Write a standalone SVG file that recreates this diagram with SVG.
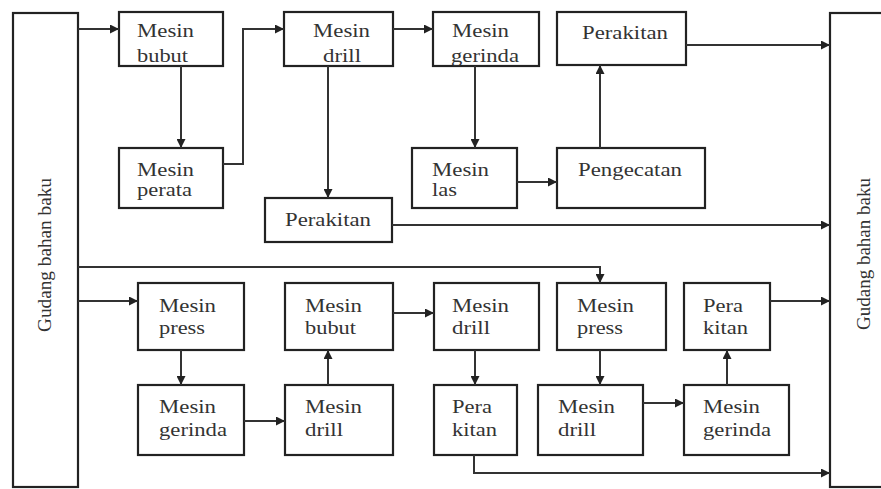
<svg xmlns="http://www.w3.org/2000/svg" width="881" height="489" viewBox="0 0 881 489">
<defs>
<marker id="ah" markerUnits="userSpaceOnUse" markerWidth="10" markerHeight="9" viewBox="0 0 10 10" refX="10" refY="5" orient="auto">
<path d="M0,0 L10,5 L0,10 z" fill="#222"/>
</marker>
<style>
.box{fill:#fff;stroke:#222;stroke-width:2.2}
.t{font-family:"Liberation Serif","Times New Roman",serif;font-size:18.5px;fill:#333}
.g{font-family:"Liberation Serif","Times New Roman",serif;font-size:18px;fill:#333}
.c{fill:none;stroke:#333;stroke-width:2;marker-end:url(#ah)}
</style>
</defs>
<rect width="881" height="489" fill="#fff"/>

<g id="gudang-kiri">
<rect class="box" x="13" y="13" width="65" height="474"/>
<text class="g" transform="translate(51,332) rotate(-90)" textLength="154" lengthAdjust="spacingAndGlyphs">Gudang bahan baku</text>
</g>
<g id="gudang-kanan">
<rect class="box" x="830" y="13" width="60" height="474"/>
<text class="g" transform="translate(870,330) rotate(-90)" textLength="152" lengthAdjust="spacingAndGlyphs">Gudang bahan baku</text>
</g>

<g id="n-bubut1">
<rect class="box" x="119" y="12" width="104" height="54"/>
<text class="t" x="137" y="37" textLength="57" lengthAdjust="spacingAndGlyphs">Mesin</text>
<text class="t" x="137" y="62" textLength="51" lengthAdjust="spacingAndGlyphs">bubut</text>
</g>
<g id="n-perata">
<rect class="box" x="119" y="148" width="104" height="60"/>
<text class="t" x="137" y="176" textLength="57" lengthAdjust="spacingAndGlyphs">Mesin</text>
<text class="t" x="137" y="196" textLength="55" lengthAdjust="spacingAndGlyphs">perata</text>
</g>
<g id="n-drill1">
<rect class="box" x="284" y="12" width="109" height="54"/>
<text class="t" x="313" y="37" textLength="57" lengthAdjust="spacingAndGlyphs">Mesin</text>
<text class="t" x="323" y="62" textLength="38" lengthAdjust="spacingAndGlyphs">drill</text>
</g>
<g id="n-gerinda1">
<rect class="box" x="433" y="12" width="106" height="54"/>
<text class="t" x="452" y="37" textLength="57" lengthAdjust="spacingAndGlyphs">Mesin</text>
<text class="t" x="451" y="62" textLength="68" lengthAdjust="spacingAndGlyphs">gerinda</text>
</g>
<g id="n-perakitan1">
<rect class="box" x="557" y="12" width="129" height="53"/>
<text class="t" x="582" y="39" textLength="86" lengthAdjust="spacingAndGlyphs">Perakitan</text>
</g>
<g id="n-las">
<rect class="box" x="412" y="148" width="105" height="60"/>
<text class="t" x="432" y="176" textLength="57" lengthAdjust="spacingAndGlyphs">Mesin</text>
<text class="t" x="432" y="196" textLength="25" lengthAdjust="spacingAndGlyphs">las</text>
</g>
<g id="n-pengecatan">
<rect class="box" x="557" y="148" width="148" height="60"/>
<text class="t" x="578" y="176" textLength="104" lengthAdjust="spacingAndGlyphs">Pengecatan</text>
</g>
<g id="n-perakitan2">
<rect class="box" x="265" y="198" width="127" height="44"/>
<text class="t" x="285" y="226" textLength="86" lengthAdjust="spacingAndGlyphs">Perakitan</text>
</g>

<g id="n-press1">
<rect class="box" x="138" y="283" width="106" height="67"/>
<text class="t" x="159" y="312" textLength="57" lengthAdjust="spacingAndGlyphs">Mesin</text>
<text class="t" x="159" y="334" textLength="46" lengthAdjust="spacingAndGlyphs">press</text>
</g>
<g id="n-gerinda2">
<rect class="box" x="138" y="385" width="106" height="70"/>
<text class="t" x="159" y="413" textLength="57" lengthAdjust="spacingAndGlyphs">Mesin</text>
<text class="t" x="159" y="436" textLength="68" lengthAdjust="spacingAndGlyphs">gerinda</text>
</g>
<g id="n-bubut2">
<rect class="box" x="285" y="283" width="108" height="67"/>
<text class="t" x="305" y="312" textLength="57" lengthAdjust="spacingAndGlyphs">Mesin</text>
<text class="t" x="305" y="334" textLength="51" lengthAdjust="spacingAndGlyphs">bubut</text>
</g>
<g id="n-drill2">
<rect class="box" x="285" y="385" width="108" height="70"/>
<text class="t" x="305" y="413" textLength="57" lengthAdjust="spacingAndGlyphs">Mesin</text>
<text class="t" x="305" y="436" textLength="38" lengthAdjust="spacingAndGlyphs">drill</text>
</g>
<g id="n-drill3">
<rect class="box" x="434" y="283" width="105" height="67"/>
<text class="t" x="452" y="312" textLength="57" lengthAdjust="spacingAndGlyphs">Mesin</text>
<text class="t" x="452" y="334" textLength="38" lengthAdjust="spacingAndGlyphs">drill</text>
</g>
<g id="n-perakitan3">
<rect class="box" x="434" y="385" width="83" height="70"/>
<text class="t" x="452" y="413" textLength="40" lengthAdjust="spacingAndGlyphs">Pera</text>
<text class="t" x="452" y="436" textLength="45" lengthAdjust="spacingAndGlyphs">kitan</text>
</g>
<g id="n-press2">
<rect class="box" x="557" y="283" width="109" height="67"/>
<text class="t" x="577" y="312" textLength="57" lengthAdjust="spacingAndGlyphs">Mesin</text>
<text class="t" x="577" y="334" textLength="46" lengthAdjust="spacingAndGlyphs">press</text>
</g>
<g id="n-drill4">
<rect class="box" x="538" y="385" width="105" height="70"/>
<text class="t" x="558" y="413" textLength="57" lengthAdjust="spacingAndGlyphs">Mesin</text>
<text class="t" x="558" y="436" textLength="38" lengthAdjust="spacingAndGlyphs">drill</text>
</g>
<g id="n-perakitan4">
<rect class="box" x="684" y="283" width="86" height="67"/>
<text class="t" x="703" y="312" textLength="40" lengthAdjust="spacingAndGlyphs">Pera</text>
<text class="t" x="703" y="334" textLength="45" lengthAdjust="spacingAndGlyphs">kitan</text>
</g>
<g id="n-gerinda3">
<rect class="box" x="684" y="385" width="105" height="70"/>
<text class="t" x="703" y="413" textLength="57" lengthAdjust="spacingAndGlyphs">Mesin</text>
<text class="t" x="703" y="436" textLength="68" lengthAdjust="spacingAndGlyphs">gerinda</text>
</g>

<g id="connectors">
<path class="c" d="M78,29 H119"/>
<path class="c" d="M181,66 V148"/>
<path class="c" d="M223,164 H243 V29 H284"/>
<path class="c" d="M393,29 H433"/>
<path class="c" d="M328,66 V198"/>
<path class="c" d="M475,66 V148"/>
<path class="c" d="M517,182 H557"/>
<path class="c" d="M600,148 V65"/>
<path class="c" d="M686,45 H830"/>
<path class="c" d="M392,225 H830"/>
<path class="c" d="M78,267 H600 V283"/>
<path class="c" d="M78,301 H138"/>
<path class="c" d="M181,350 V385"/>
<path class="c" d="M244,421 H285"/>
<path class="c" d="M328,385 V350"/>
<path class="c" d="M393,313 H434"/>
<path class="c" d="M475,350 V385"/>
<path class="c" d="M474,455 V473 H830"/>
<path class="c" d="M600,350 V385"/>
<path class="c" d="M643,403 H684"/>
<path class="c" d="M727,385 V350"/>
<path class="c" d="M770,301 H830"/>
</g>
</svg>
